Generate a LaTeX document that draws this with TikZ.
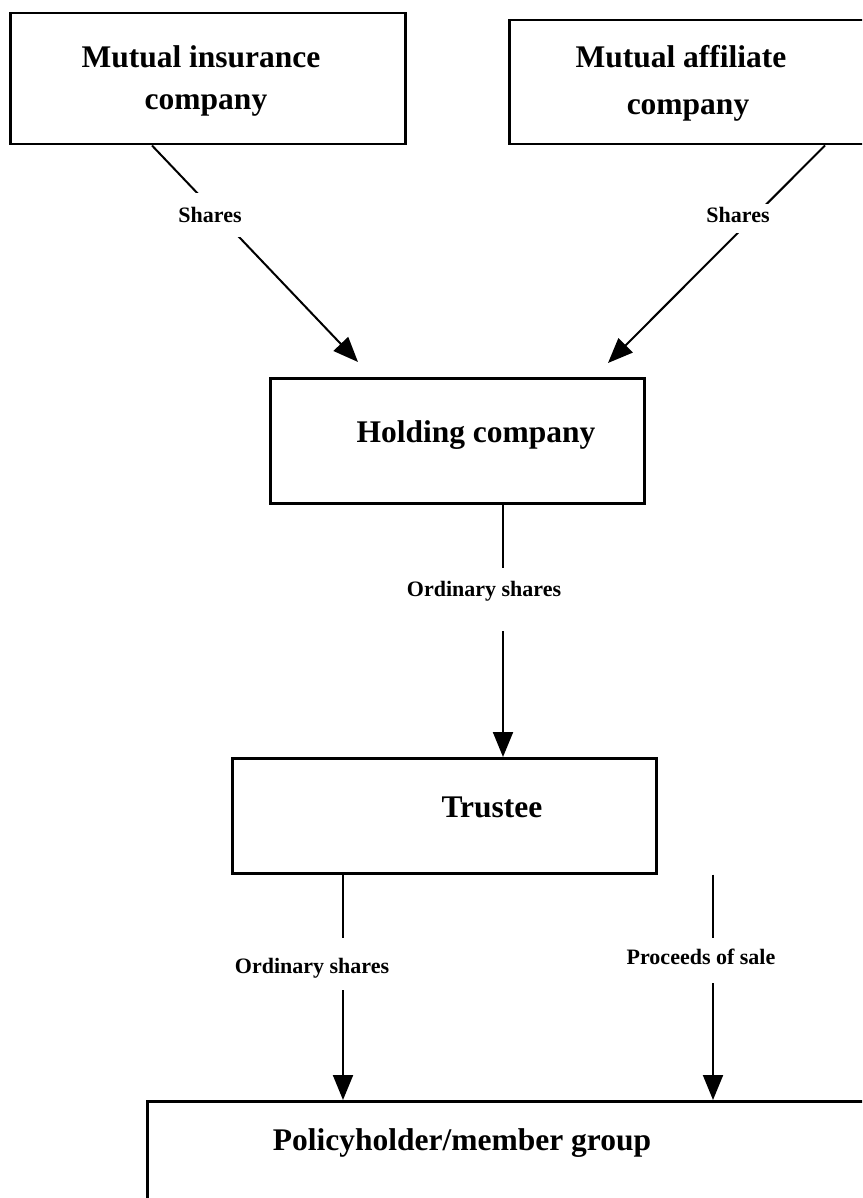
\documentclass[tikz,border=0pt]{standalone}
\usepackage{fontspec}
\setmainfont{Liberation Serif}
\usetikzlibrary{arrows.meta}
\begin{document}
\begin{tikzpicture}[x=1pt,y=-1pt,
  box/.style={draw=black, line width=2.5pt, rectangle, inner sep=0pt, anchor=north west},
  title/.style={font=\fontsize{31.5}{38}\selectfont\bfseries, anchor=base, inner sep=0pt},
  lab/.style={font=\fontsize{22}{26}\selectfont\bfseries, fill=white, anchor=base, inner xsep=3pt, inner ysep=0pt},
  arr/.style={line width=2pt, -{Triangle[length=25pt,width=20pt]}},
  ln/.style={line width=2pt}]
\clip (0,0) rectangle (862,1198);
\fill[white] (0,0) rectangle (862,1198);
% boxes
\node[box, minimum width=395pt, minimum height=131pt] (mic) at (9,12) {};
\node[box, minimum width=380pt, minimum height=124pt] (mac) at (508,19) {};
\node[box, minimum width=374pt, minimum height=125pt] (hold) at (269,377) {};
\node[box, minimum width=424pt, minimum height=115pt] (trust) at (231,757) {};
\node[box, minimum width=740pt, minimum height=140pt] (pol) at (146,1100) {};
% titles
\node[title] (t1a) at (201,68) {Mutual insurance};
\node[title] (t1b) at (206,110) {company};
\node[title] (t2a) at (681,68) {Mutual affiliate};
\node[title] (t2b) at (688,115) {company};
\node[title] (t3) at (476,442) {Holding company};
\node[title] (t4) at (492,817) {Trustee};
\node[title] (t5) at (462,1150) {Policyholder/member group};
% connectors
\draw[arr] ([xshift=143pt]mic.south west) -- ([xshift=89pt,yshift=15pt]hold.north west);
\draw[arr] ([xshift=317pt]mac.south west) -- ([xshift=339pt,yshift=14pt]hold.north west);
\draw[arr] ([xshift=234pt]hold.south west) -- ([xshift=272pt]trust.north west);
\draw[arr] ([xshift=112pt]trust.south west) -- ([xshift=197pt]pol.north west);
\draw[arr] ([xshift=482pt]trust.south west) -- ([xshift=567pt]pol.north west);
% labels
\node[lab, text height=30pt, text depth=14pt] (l1) at (210,223) {Shares};
\node[lab, text height=19pt, text depth=10pt] (l2) at (738,223) {Shares};
\node[lab, text height=28pt, text depth=35pt] (l3) at (484,596) {Ordinary shares};
\node[lab, text height=35pt, text depth=17pt] (l4) at (312,973) {Ordinary shares};
\node[lab, text height=26pt, text depth=19pt] (l5) at (701,964) {Proceeds of sale};
\end{tikzpicture}
\end{document}
